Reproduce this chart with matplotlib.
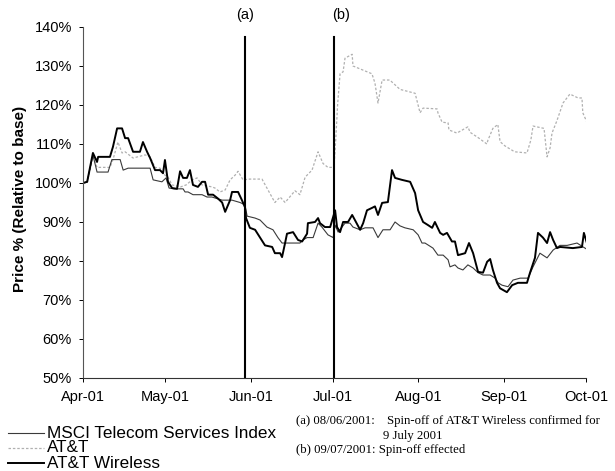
import matplotlib
matplotlib.use("Agg")
import matplotlib.pyplot as plt
from matplotlib.lines import Line2D
from matplotlib.ticker import FuncFormatter

# ── data: day offset from 1 April 2001, price relative to base (%) ──────────
wireless_days = [0, 1.5, 3.6, 5.1, 5.5, 9.8, 10.9, 12.4, 14.2, 15.3, 16.4, 18.2,
                 20.7, 21.8, 23.3, 24.4, 26.2, 28, 29.1, 29.8, 30.9, 32.4, 34.2,
                 35.3, 36.4, 37.8, 38.9, 40, 41.8, 43.3, 44.4, 45.5, 47.3, 49.1,
                 50.6, 51.7, 53.5, 54.2, 56.4, 57.8, 58.9, 59.3, 60.7, 62.6, 64.4,
                 66.2, 68.8, 69.8, 71.7, 72.4, 73.5, 74.2, 76.4, 78.2, 79.7, 81.5,
                 81.8, 84.4, 85.5, 86.2, 88, 89.9, 91.7, 92.4, 93.5, 94.6, 96.4,
                 97.9, 98.9, 100.8, 101.9, 103.3, 105.1, 106.2, 107.3, 108.8,
                 110.9, 112.4, 113.5, 116, 119, 120.8, 121.9, 123.7, 125.5, 127,
                 128, 129.9, 131, 132.4, 134.2, 135.3, 136.4, 139, 140.4, 141.9,
                 143.7, 145.5, 147, 148.1, 149.1, 150.6, 151.7, 154.2, 156.1,
                 158.2, 161.5, 162.6, 164.4, 165.5, 167.3, 168.8, 169.9, 171,
                 172.4, 173.5, 178.2, 181.5, 182.2, 183.3]
wireless_vals = [100, 100.3, 107.7, 105.4, 106.7, 106.7, 109.3, 114, 114, 111.5,
                 111.5, 108, 108, 110.5, 108, 106.4, 103.3, 103.3, 102.5, 105.9,
                 100.3, 98.7, 98.5, 103, 101.3, 101.3, 103.3, 99.5, 99, 100.3,
                 100.3, 97, 97, 96, 95, 92.6, 95.6, 97.7, 97.7, 95.6, 93.8, 91,
                 88.5, 88, 86, 84, 83.6, 82, 82, 81, 84.6, 87, 87.4, 85.4, 85,
                 87, 89.7, 90, 91, 89.7, 88.7, 88.7, 93, 88.7, 87.4, 90, 90,
                 91.8, 90.5, 88, 89.7, 93, 93.6, 94, 91.8, 94.9, 95.1, 103.3,
                 101.3, 100.8, 100.3, 97.4, 93, 90, 89.2, 88.5, 90, 87.2, 86.7,
                 87.2, 85, 85, 81.5, 82, 84.6, 82, 77.2, 77, 79.8, 80.5, 77.7,
                 74.4, 73, 72, 73.8, 74.4, 74.4, 77, 80.8, 87.2, 86, 84.6, 87.4,
                 85.4, 83.3, 83.6, 83.3, 83.6, 87.2, 84.6]

msci_days = [0, 1.5, 3.6, 5.1, 9.1, 10.5, 13.5, 14.6, 16.4, 24.4, 25.5, 28.7,
             30.2, 31.3, 33.1, 36.4, 37.1, 38.2, 40, 43.3, 45.1, 46.9, 48.7,
             50.6, 54.2, 57.1, 58.9, 59.7, 62.6, 64.4, 66.9, 69.1, 70.9, 72.4,
             74.2, 78.9, 80, 81.5, 83.7, 85.5, 86.9, 89.1, 91, 91.7, 92.8, 95.3,
             97.1, 98.2, 100.8, 102.6, 105.5, 107.3, 109.1, 111.7, 113.5, 115.3,
             117.1, 120.1, 121.9, 123.3, 124.4, 127.3, 129.1, 131, 132.8, 133.5,
             135.3, 136.4, 138.2, 140, 141.9, 143.7, 145.5, 148.1, 149.9, 151,
             152.4, 154.6, 156.4, 159, 161.9, 163.7, 166.2, 168.8, 171, 173.5,
             176.1, 179.7, 181.9, 183.3]
msci_vals = [100, 100.3, 107.2, 102.8, 102.8, 106, 106, 103.3, 103.8, 103.8,
             100.8, 100.3, 101.3, 98.7, 98.5, 98.5, 97.7, 97.7, 97, 97, 96.4,
             96.4, 96, 95.6, 95.6, 95, 94.4, 91.5, 91, 90.5, 88.7, 88, 86,
             84.6, 84.6, 84.6, 85.4, 86, 86, 89.7, 88.7, 86.7, 86, 89.2, 87.4,
             89.7, 89.7, 88.7, 88, 88.5, 88.5, 86, 88, 88, 90, 89, 88.5, 88,
             86.7, 84.6, 84.6, 83.3, 81.5, 81.5, 80.3, 78.5, 79, 78.2, 77.7, 79,
             78.2, 77, 76.4, 76.4, 75.6, 74.4, 73.8, 73.4, 75.1, 75.6, 75.6,
             78.5, 82, 80.8, 82.8, 84, 84, 84.6, 83.6, 83]

att_days = [0, 1.5, 3.6, 5.1, 9.8, 10.9, 12.7, 14.2, 15.3, 18.2, 22.6, 24.4,
            26.2, 28, 29.8, 30.9, 32.4, 35.5, 37.5, 39.7, 41.5, 43.3, 46.9, 48,
            49.8, 51.7, 53.5, 55.3, 56.4, 58.2, 60.7, 65.1, 69.8, 71.7, 73.5,
            77.1, 78.9, 80.8, 83.3, 85.5, 87.3, 89.1, 91.3, 92, 92.6, 93.5,
            94.6, 95.3, 97.9, 98.2, 105.1, 106.2, 107.3, 108.8, 111.6, 115.3,
            120.8, 122.6, 123.7, 128.8, 129.1, 130.6, 132.8, 133.1, 136, 140,
            140.8, 144, 146.9, 147.3, 149.1, 150.9, 151.7, 153.5, 157, 161.5,
            162.9, 163.7, 167.7, 168.8, 169.9, 170.6, 172.4, 174.6, 177.1,
            180.1, 181.5, 181.8, 183.3]
att_vals = [100, 100, 106.7, 104, 104, 106, 110.5, 107.7, 108, 106.4, 107.2,
            106.7, 104, 103.8, 102, 101.5, 99.5, 99, 99.5, 100.8, 101.3, 99.5,
            99, 98.7, 97.7, 98.2, 100.8, 102, 103, 100.8, 101, 101, 95, 96.4,
            95, 98, 97, 101.5, 103.3, 108, 105, 104, 104, 112, 120, 128,
            128.5, 132, 133, 130, 128, 125.6, 120.5, 126.4, 126.4, 124, 123,
            118, 119.2, 119, 118, 115.6, 115.4, 113.6, 112.8, 114.4, 113,
            111.5, 110, 111, 114, 115, 110.6, 109.5, 108, 107.7, 111, 114.6,
            114, 106.7, 109, 112.8, 116, 120.5, 122.8, 121.8, 121.8, 118, 115.6]

month_days = [0, 30, 61, 91, 122, 153, 183]
month_labels = ["Apr-01", "May-01", "Jun-01", "Jul-01", "Aug-01", "Sep-01", "Oct-01"]
event_days = [59.1, 91.3]
event_labels = ["(a)", "(b)"]

# ── figure ──────────────────────────────────────────────────────────────────
plt.rcParams['font.family'] = ['Liberation Sans', 'DejaVu Sans']

fig = plt.figure(figsize=(6.15, 4.71), dpi=100)
ax = fig.add_axes([0.135, 0.1975, 0.818, 0.7452])

ax.plot(att_days, att_vals, color='#b0b0b0', lw=0.9, linestyle=(0, (2, 1.5)))
ax.plot(msci_days, msci_vals, color='#3a3a3a', lw=0.8)
ax.plot(wireless_days, wireless_vals, color='black', lw=1.4)

for d, lab, off in zip(event_days, event_labels, [0, 2.5]):
    ax.axvline(d, ymin=0, ymax=0.971, color='black', lw=1.5)
    ax.text(d + off, 1.034, lab, transform=ax.get_xaxis_transform(),
            ha='center', va='center', fontsize=10.5)

ax.set_xlim(0, 183)
ax.set_ylim(50, 140)
ax.set_xticks(month_days)
ax.set_xticklabels(month_labels)
ax.set_yticks(range(50, 141, 10))
ax.yaxis.set_major_formatter(FuncFormatter(lambda v, p: f"{v:.0f}%"))
ax.tick_params(labelsize=10.5, length=3, width=0.7, colors='black')
ax.tick_params(axis='x', pad=6)
ax.tick_params(axis='y', pad=5)

for s in ['top', 'right']:
    ax.spines[s].set_visible(False)
ax.spines['left'].set_color('#555555')
ax.spines['left'].set_linewidth(0.8)
ax.spines['bottom'].set_color('#333333')
ax.spines['bottom'].set_linewidth(0.8)

fig.text(0.033, 0.577, "Price % (Relative to base)", rotation=90,
         ha='center', va='center', fontsize=11, fontweight='bold')

# ── legend (bottom left, outside the plot) ──────────────────────────────────
legend_items = [("MSCI Telecom Services Index", '#3a3a3a', 0.8, '-'),
                ("AT&T", '#b0b0b0', 0.9, (0, (2, 1.5))),
                ("AT&T Wireless", 'black', 1.4, '-')]
for i, (lab, col, lw, ls) in enumerate(legend_items):
    y = 1 - (433 + 15 * i) / 471
    fig.add_artist(Line2D([0.013, 0.072], [y, y], color=col, lw=lw,
                          linestyle=ls, transform=fig.transFigure))
    fig.text(0.076, y, lab, ha='left', va='center', fontsize=12.3)

# ── notes (bottom right) ────────────────────────────────────────────────────
note_font = dict(family=['Liberation Serif', 'DejaVu Serif'], fontsize=9.2,
                 ha='left', va='center')
fig.text(0.482, 1 - 421 / 471, "(a) 08/06/2001:", **note_font)
fig.text(0.630, 1 - 421 / 471,
         "Spin-off of AT&T Wireless confirmed for", **note_font)
fig.text(0.622, 1 - 436 / 471, "9 July 2001", **note_font)
fig.text(0.482, 1 - 450 / 471, "(b) 09/07/2001: Spin-off effected", **note_font)

plt.savefig("out.png", dpi=100)
